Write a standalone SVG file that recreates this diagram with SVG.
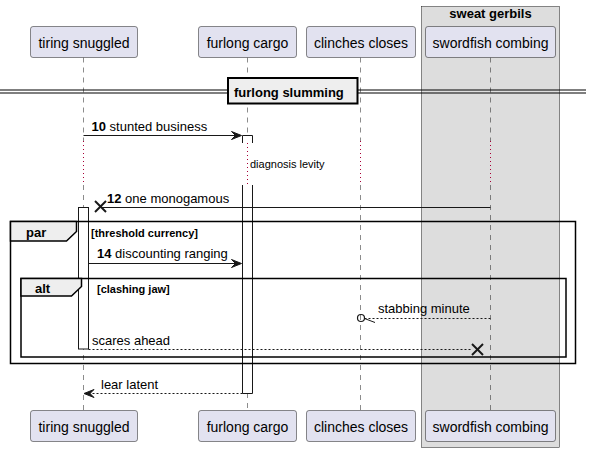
<svg xmlns="http://www.w3.org/2000/svg" width="591" height="452" viewBox="0 0 591 452">
<style>
text{font-family:"Liberation Sans",Arial,sans-serif;fill:#000}
.p{fill:#E2E2F0;stroke:#181818;stroke-width:0.5}
.pt{font-size:14px;text-anchor:middle}
.life{stroke:#181818;stroke-width:0.5;stroke-dasharray:5,5;fill:none}
.delay{stroke:#A80036;stroke-width:1;stroke-dasharray:1,3;fill:none}
.act{fill:#FFFFFF;stroke:#181818;stroke-width:1}
.msg{stroke:#181818;stroke-width:1;fill:none}
.dash{stroke:#181818;stroke-width:1;stroke-dasharray:2,2;fill:none}
.ah{fill:#181818;stroke:#181818;stroke-width:1}
.ml{font-size:13px}
.b{font-weight:bold}
.frame{fill:none;stroke:#000;stroke-width:1.5}
.tab{fill:#EEEEEE;stroke:#000;stroke-width:1.5}
.x{stroke:#181818;stroke-width:2}
</style>
<rect width="591" height="452" fill="#FFFFFF"/>
<g id="box-sweat-gerbils">
<rect x="421.5" y="6.5" width="138" height="441" fill="#DDDDDD" stroke="#181818" stroke-width="0.5"/>
<text x="490.5" y="18" font-size="13" font-weight="bold" text-anchor="middle">sweat gerbils</text>
</g>
<g id="lifelines">
<line class="life" x1="83.5" y1="57.5" x2="83.5" y2="141"/>
<line class="life" x1="83.5" y1="185" x2="83.5" y2="410"/>
<line class="life" x1="247.5" y1="57.5" x2="247.5" y2="135"/>
<line class="life" x1="247.5" y1="393" x2="247.5" y2="410"/>
<line class="life" x1="360.5" y1="57.5" x2="360.5" y2="141"/>
<line class="life" x1="360.5" y1="185" x2="360.5" y2="410"/>
<line class="life" x1="490.5" y1="57.5" x2="490.5" y2="141"/>
<line class="life" x1="490.5" y1="185" x2="490.5" y2="410"/>
<line class="delay" x1="83.5" y1="141" x2="83.5" y2="185"/>
<line class="delay" x1="247.5" y1="143" x2="247.5" y2="185"/>
<line class="delay" x1="360.5" y1="141" x2="360.5" y2="185"/>
<line class="delay" x1="490.5" y1="141" x2="490.5" y2="185"/>
<text x="250" y="168" font-size="11">diagnosis levity</text>
</g>
<g id="tiring-snuggled">
<rect class="p" x="30.5" y="26.5" width="107" height="31" rx="2.5"/>
<text class="pt" x="84" y="48">tiring snuggled</text>
<rect class="p" x="30.5" y="410.5" width="107" height="31" rx="2.5"/>
<text class="pt" x="84" y="432">tiring snuggled</text>
<rect class="act" x="78.5" y="207.5" width="10" height="141.5"/>
</g>
<g id="furlong-cargo">
<rect class="p" x="198.5" y="26.5" width="98" height="31" rx="2.5"/>
<text class="pt" x="247.5" y="48">furlong cargo</text>
<rect class="p" x="198.5" y="410.5" width="98" height="31" rx="2.5"/>
<text class="pt" x="247.5" y="432">furlong cargo</text>
<path class="act" d="M242.5,143 V135.5 H252.5 V143"/>
<path class="act" d="M242.5,185 V393.5 H252.5 V185"/>
</g>
<g id="clinches-closes">
<rect class="p" x="306.5" y="26.5" width="109" height="31" rx="2.5"/>
<text class="pt" x="361" y="48">clinches closes</text>
<rect class="p" x="306.5" y="410.5" width="109" height="31" rx="2.5"/>
<text class="pt" x="361" y="432">clinches closes</text>
</g>
<g id="swordfish-combing">
<rect class="p" x="425.5" y="26.5" width="130" height="31" rx="2.5"/>
<text class="pt" x="490.5" y="48">swordfish combing</text>
<rect class="p" x="425.5" y="410.5" width="130" height="31" rx="2.5"/>
<text class="pt" x="490.5" y="432">swordfish combing</text>
</g>
<g id="divider-furlong-slumming">
<line x1="0" y1="90" x2="586" y2="90" stroke="#000" stroke-width="1.2"/>
<line x1="0" y1="93" x2="586" y2="93" stroke="#000" stroke-width="1.2"/>
<rect x="228" y="78" width="129.5" height="25.5" fill="#EEEEEE" stroke="#000" stroke-width="2"/>
<text x="234" y="96.5" font-size="13" font-weight="bold">furlong slumming</text>
</g>
<g id="frame-par">
<rect class="frame" x="10.5" y="221.5" width="565" height="142"/>
<path class="tab" d="M10.5,221.5 H76.5 V231.5 L66.5,241 H10.5 Z"/>
<text x="26" y="236.5" font-size="13" font-weight="bold">par</text>
<text x="91" y="236.5" font-size="11" font-weight="bold">[threshold currency]</text>
</g>
<g id="frame-alt">
<rect class="frame" x="21" y="278.5" width="545" height="78.5"/>
<path class="tab" d="M21,278.5 H81.5 V286.5 L71.5,296 H21 Z"/>
<text x="35" y="292.5" font-size="13" font-weight="bold">alt</text>
<text x="97" y="292.5" font-size="11" font-weight="bold">[clashing jaw]</text>
</g>
<g id="connectors">
<line class="msg" x1="83.5" y1="135.5" x2="240" y2="135.5"/>
<polygon class="ah" points="241.5,135.5 231.5,131.5 235.5,135.5 231.5,139.5"/>
<text class="ml" x="91.5" y="131"><tspan class="b">10</tspan> stunted business</text>
<line class="msg" x1="490.5" y1="207.5" x2="101" y2="207.5"/>
<line class="x" x1="95" y1="201" x2="106" y2="212"/>
<line class="x" x1="95" y1="212" x2="106" y2="201"/>
<text class="ml" x="107" y="203"><tspan class="b">12</tspan> one monogamous</text>
<line class="msg" x1="88.5" y1="263.5" x2="240" y2="263.5"/>
<polygon class="ah" points="241.5,263.5 231.5,259.5 235.5,263.5 231.5,267.5"/>
<text class="ml" x="97" y="258"><tspan class="b">14</tspan> discounting ranging</text>
<line class="dash" x1="490.5" y1="318.5" x2="365" y2="318.5"/>
<circle cx="361" cy="318" r="3.5" fill="none" stroke="#181818" stroke-width="1.2"/>
<line class="msg" x1="364.5" y1="318.5" x2="375" y2="322.5"/>
<text class="ml" x="378" y="313">stabbing minute</text>
<line class="dash" x1="88.5" y1="349.5" x2="472" y2="349.5"/>
<line class="x" x1="472" y1="344" x2="483" y2="355"/>
<line class="x" x1="472" y1="355" x2="483" y2="344"/>
<text class="ml" x="92" y="344.5">scares ahead</text>
<line class="dash" x1="242.5" y1="393.5" x2="85" y2="393.5"/>
<polygon class="ah" points="84,393.5 94,389.5 90,393.5 94,397.5"/>
<text class="ml" x="101" y="388.5">lear latent</text>
</g>
</svg>
